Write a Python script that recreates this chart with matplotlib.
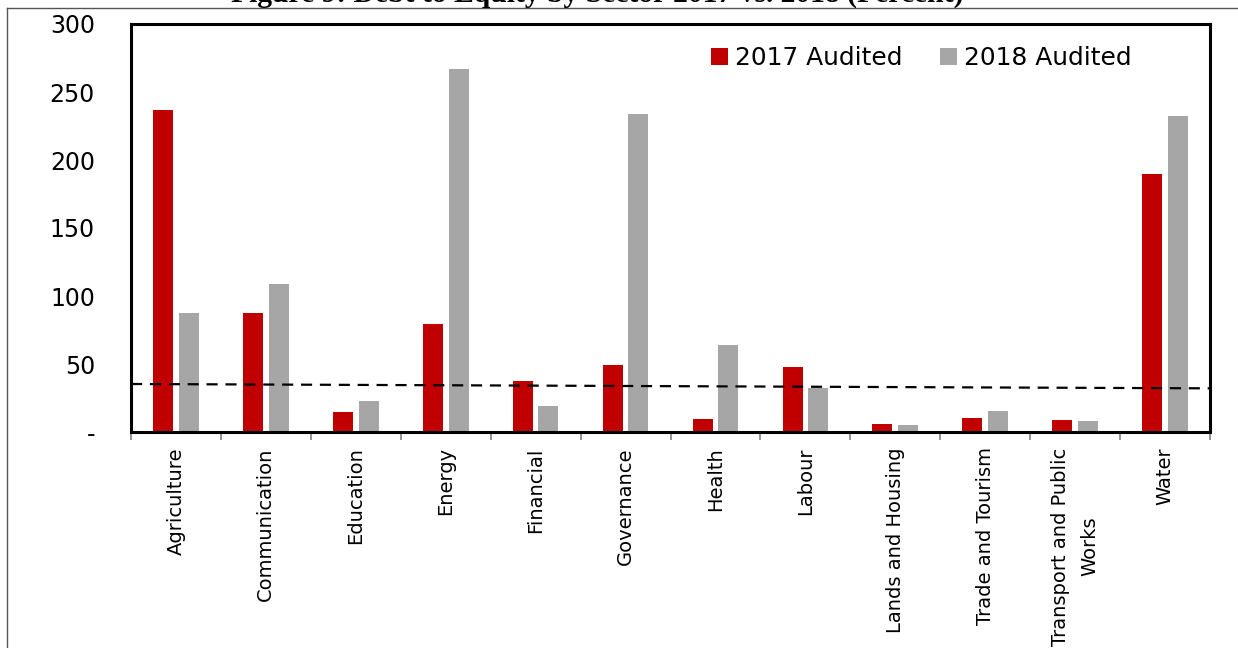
import matplotlib
matplotlib.use("Agg")
import matplotlib.pyplot as plt
import numpy as np
from matplotlib.lines import Line2D
from matplotlib.patches import Patch

categories = ["Agriculture", "Communication", "Education", "Energy", "Financial",
              "Governance", "Health", "Labour", "Lands and Housing",
              "Trade and Tourism", "Transport and Public\nWorks", "Water"]
audited_2017 = [236.8, 87.5, 14.7, 79.4, 37.5, 49.3, 9.6, 47.8, 5.9, 10.3, 8.8, 189.7]
audited_2018 = [87.5, 108.8, 22.8, 266.9, 19.1, 233.8, 64.0, 32.4, 5.1, 15.4, 8.1, 232.4]
trend_ends = [35.3, 32.1]
y_ticks = [0, 50, 100, 150, 200, 250, 300]
y_labels = ["-", "50", "100", "150", "200", "250", "300"]
series_names = ["2017 Audited", "2018 Audited"]
title = "Figure 9: Debt to Equity by Sector 2017 vs. 2018 (Percent)"

red = "#C00000"
grey = "#A6A6A6"

fig = plt.figure(figsize=(12.38, 6.48), dpi=100)
W, H = 1238, 648
ax = fig.add_axes([131 / W, 1 - 432 / H, (1210 - 131) / W, (432 - 24) / H])

x = np.arange(len(categories))
bw = 0.2225
off = 0.143
ax.bar(x - off, audited_2017, width=bw, color=red, label=series_names[0])
ax.bar(x + off, audited_2018, width=bw, color=grey, label=series_names[1])

ax.plot([-0.5, len(categories) - 0.5], trend_ends, color="black", lw=1.6,
        linestyle=(0, (5, 3.5)))

ax.set_xlim(-0.5, len(categories) - 0.5)
ax.set_ylim(0, 300)
ax.set_yticks(y_ticks)
ax.set_yticklabels(y_labels, fontsize=17)
ax.tick_params(axis="y", length=0, pad=26)

ax.set_xticks(x)
ax.set_xticklabels(categories, rotation=90, fontsize=14, ha="center",
                   va="top", multialignment="center", linespacing=1.7)
ax.tick_params(axis="x", which="major", length=0, pad=11)
ax.set_xticks(np.arange(-0.5, len(categories)), minor=True)
ax.tick_params(axis="x", which="minor", length=6, width=1.2, color="#808080",
               direction="out")

for s in ax.spines.values():
    s.set_linewidth(2.2)
    s.set_color("black")

handles = [Patch(facecolor=red), Patch(facecolor=grey)]
fig.legend(handles, series_names, loc="center", bbox_to_anchor=(921.5 / W, 1 - 58 / H),
           ncol=2, frameon=False, fontsize=17.9, handlelength=0.68, handleheight=0.68,
           handletextpad=0.3, columnspacing=1.5, borderpad=0)

# outer frame lines
fig.add_artist(Line2D([7 / W, 7 / W], [0, 1 - 8 / H], transform=fig.transFigure,
                      color="#555555", lw=1))
fig.add_artist(Line2D([7 / W, 1], [1 - 8 / H, 1 - 8 / H], transform=fig.transFigure,
                      color="#555555", lw=1))

fig.text(597 / W, 1 - 2 / H, title, ha="center", va="baseline",
         fontsize=21.3, fontweight="bold", family="Liberation Serif")

fig.savefig("out.png", dpi=100)
